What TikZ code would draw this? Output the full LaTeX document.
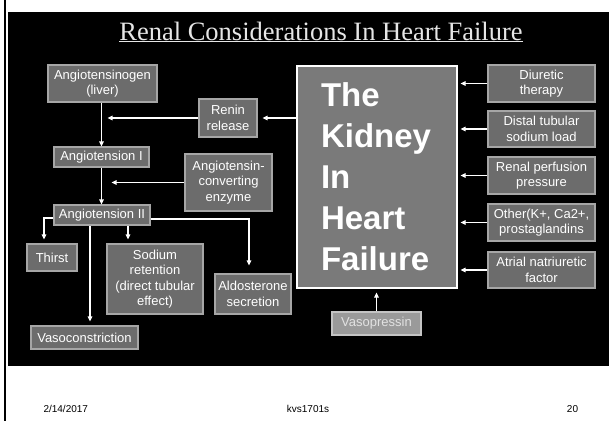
\documentclass[tikz,border=0pt]{standalone}
\usepackage{fontspec}
\setmainfont{Liberation Sans}
\newfontfamily\titlefont{Liberation Serif}
\usetikzlibrary{arrows.meta, positioning, calc}

\definecolor{boxfill}{HTML}{6C6C6C}
\definecolor{boxline}{HTML}{A6A6A6}
\definecolor{kidfill}{HTML}{7A7A7A}
\definecolor{vpfill}{HTML}{9A9A9A}
\definecolor{vpline}{HTML}{C4C4C4}
\definecolor{vptext}{HTML}{E2E2E2}
\definecolor{titlegray}{HTML}{E6E6E6}

\begin{document}
\begin{tikzpicture}[
  x=1pt, y=1pt,
  font=\fontsize{13}{15.5}\selectfont,
  bx/.style  ={draw=boxline, fill=boxfill, line width=1.1pt, text=white,
               align=center, inner sep=1pt},
  kbx/.style ={draw=white, fill=kidfill, line width=1.2pt, text=white,
               align=left, inner sep=0pt, text width=112pt,
               minimum width=160pt, minimum height=222pt,
               font=\fontsize{33}{41}\selectfont\bfseries},
  vbx/.style ={draw=vpline, fill=vpfill, line width=1.1pt, text=vptext,
               align=center, inner sep=1pt},
  arr/.style ={draw=white, line width=1.2pt, -{Triangle[length=5pt, width=4.5pt]}},
  foot/.style={font=\fontsize{10}{12}\selectfont, text=black, anchor=base},
]
\useasboundingbox (0,0) rectangle (609,-421);

% =========================== SLIDE ==================================
\fill[black] (7.7,-11.5) rectangle (609,-366);
\draw[black, line width=2pt] (5,0) -- (5,-421);

% =========================== TITLE ==================================
\node[font=\titlefont\fontsize{26.5}{30}\selectfont, text=titlegray, anchor=base]
  (title) at (321,-40) {\underline{Renal Considerations In Heart Failure}};

% =========================== NODES ==================================
\node[bx, minimum width=109pt, minimum height=37pt] (agen)   at (102.5,-83.5) {Angiotensinogen\\(liver)};
\node[bx, minimum width=58pt,  minimum height=38pt] (renin)  at (228,-118)    {Renin\\release};
\node[bx, minimum width=95pt,  minimum height=20pt] (ang1)   at (101.5,-157)  {Angiotension I};
\node[bx, minimum width=87pt,  minimum height=57pt] (ace)    at (228.5,-182.5){Angiotensin-\\converting\\enzyme};
\node[bx, minimum width=96pt,  minimum height=20pt] (ang2)   at (102,-215)    {Angiotension II};
\node[bx, minimum width=50pt,  minimum height=27pt] (thirst) at (52,-257.5)   {Thirst};
\node[bx, minimum width=96pt,  minimum height=70pt] (sodium) at (155,-279)    {Sodium\\retention\\(direct tubular\\effect)};
\node[bx, minimum width=76pt,  minimum height=40pt] (aldo)   at (253,-294)    {Aldosterone\\secretion};
\node[bx, minimum width=107pt, minimum height=23pt] (vaso)   at (84.5,-337.5) {Vasoconstriction};

\node[kbx] (kid) at (377,-177) {The\\Kidney\\In\\Heart\\Failure};

\node[bx, minimum width=107pt, minimum height=37pt] (diur)   at (541.5,-83.5) {Diuretic\\therapy};
\node[bx, minimum width=107pt, minimum height=36pt] (distal) at (541.5,-129)  {Distal tubular\\sodium load};
\node[bx, minimum width=107pt, minimum height=37pt] (perf)   at (541.5,-175.5){Renal perfusion\\pressure};
\node[bx, minimum width=107pt, minimum height=37pt] (other)  at (541.5,-222.5){Other(K+, Ca2+,\\prostaglandins};
\node[bx, minimum width=107pt, minimum height=36pt] (atrial) at (541.5,-270)  {Atrial natriuretic\\factor};

\node[vbx, minimum width=89pt, minimum height=23pt] (vasop) at (376.5,-323.5) {Vasopressin};

% ======================= RENIN-ANGIOTENSIN ==========================
\draw[arr] (agen.south -| ang1) -- (ang1.north);
\draw[arr] (ang1.south) -- (ang1.south |- ang2.north);
\draw[arr, shorten >=5pt] (kid.west |- renin.east) -- (renin.east);
\draw[arr, shorten >=6pt] (renin.west) -- (renin.west -| ang1);
\draw[arr, shorten >=10pt] (ace.west) -- (ace.west -| ang1);

% ======================= ANGIOTENSION II EFFECTS ====================
\draw[arr, shorten >=4pt] ([yshift=-3pt]ang2.west) -| ([xshift=-8pt]thirst.north);
\draw[arr, shorten >=4pt] ([xshift=26pt]ang2.south) -- ([xshift=26pt]ang2.south |- sodium.north);
\draw[arr, shorten >=4pt] ([xshift=-12pt]ang2.south) -- ([xshift=-12pt]ang2.south |- vaso.north);
\draw[arr, shorten >=8pt] ([yshift=-4pt]ang2.east) -| ([xshift=-4pt]aldo.north);

% ======================= INPUTS TO KIDNEY ===========================
\foreach \n in {diur, distal, perf, other, atrial}
  \draw[arr, shorten >=3pt] (\n.west) -- (\n.west -| kid.east);
\draw[arr, shorten >=4pt] (vasop.north) -- (vasop.north |- kid.south);

% =========================== FOOTER =================================
\node[foot, anchor=base west] (date) at (40,-412) {2/14/2017};
\node[foot] (code) at (308,-412) {kvs1701s};
\node[foot] (page) at (572.5,-412) {20};

\end{tikzpicture}
\end{document}
